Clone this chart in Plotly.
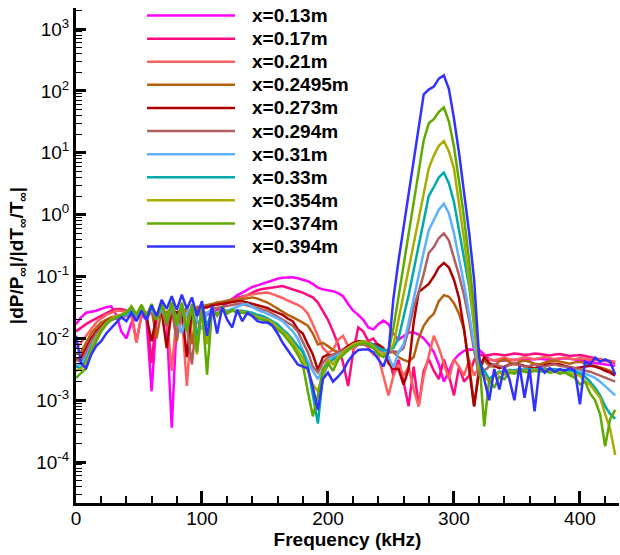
import plotly.graph_objects as go

freq_khz = [0, 4, 8, 12, 16, 20, 24, 28, 32, 36,
            40, 44, 48, 52, 56, 60, 64, 68, 72, 76,
            80, 84, 88, 92, 96, 100, 104, 108, 112, 116,
            120, 124, 128, 132, 136, 140, 144, 148, 152, 156,
            160, 164, 168, 172, 176, 180, 184, 188, 192, 196,
            200, 204, 208, 212, 216, 220, 224, 228, 232, 236,
            240, 244, 248, 252, 256, 260, 264, 268, 272, 276,
            280, 284, 288, 292, 296, 300, 304, 308, 312, 316,
            320, 324, 328, 332, 336, 340, 344, 348, 352, 356,
            360, 364, 368, 372, 376, 380, 384, 388, 392, 396,
            400, 404, 408, 412, 416, 420, 424, 428]

series_labels = ["x=0.13m", "x=0.17m", "x=0.21m", "x=0.2495m", "x=0.273m", "x=0.294m",
                 "x=0.31m", "x=0.33m", "x=0.354m", "x=0.374m", "x=0.394m"]

y_tick_vals = [1e-4, 1e-3, 1e-2, 1e-1, 1e0, 1e1, 1e2, 1e3]
y_tick_text = ["10<sup>-4</sup>", "10<sup>-3</sup>", "10<sup>-2</sup>", "10<sup>-1</sup>",
               "10<sup>0</sup>", "10<sup>1</sup>", "10<sup>2</sup>", "10<sup>3</sup>"]

amp_x013 = [1.7e-2, 2.2e-2, 2.6e-2, 2.7e-2, 2.8e-2, 3.0e-2, 3.2e-2, 3.3e-2, 2.4e-2, 1.3e-2,
            1.0e-2, 1.8e-2, 2.2e-2, 2.4e-2, 2.0e-2, 1.4e-3, 2.2e-2, 2.3e-2, 1.8e-2, 3.6e-4,
            2.0e-2, 2.3e-2, 2.4e-2, 2.5e-2, 2.4e-2, 2.5e-2, 2.4e-2, 2.6e-2, 2.9e-2, 3.2e-2,
            3.7e-2, 4.3e-2, 5.0e-2, 5.5e-2, 6.2e-2, 6.8e-2, 7.2e-2, 7.7e-2, 8.2e-2, 8.7e-2,
            9.2e-2, 9.6e-2, 9.7e-2, 9.7e-2, 9.4e-2, 9.0e-2, 8.4e-2, 7.6e-2, 6.6e-2, 6.2e-2,
            6.0e-2, 5.8e-2, 5.4e-2, 4.8e-2, 3.6e-2, 2.8e-2, 2.4e-2, 2.0e-2, 1.5e-2, 1.4e-2,
            1.7e-2, 1.95e-2, 1.7e-2, 1.2e-2, 9.5e-3, 1.1e-2, 1.25e-2, 1.25e-2, 1.15e-2, 1.0e-2,
            8.0e-3, 6.0e-3, 3.8e-3, 2.0e-3, 3.0e-3, 4.5e-3, 5.5e-3, 6.3e-3, 6.6e-3, 6.6e-3,
            6.5e-3, 5.5e-3, 4.6e-3, 4.4e-3, 4.3e-3, 4.4e-3, 4.5e-3, 4.6e-3, 4.6e-3, 4.5e-3,
            4.5e-3, 4.6e-3, 4.7e-3, 4.6e-3, 4.5e-3, 4.6e-3, 4.7e-3, 4.8e-3, 4.7e-3, 4.6e-3,
            4.5e-3, 4.4e-3, 4.2e-3, 4.0e-3, 3.9e-3, 3.8e-3, 3.7e-3, 3.6e-3]

amp_x017 = [1.3e-2, 1.5e-2, 1.7e-2, 1.9e-2, 2.1e-2, 2.3e-2, 2.5e-2, 2.8e-2, 3.0e-2, 3.0e-2,
            2.8e-2, 2.5e-2, 9.0e-3, 2.4e-2, 2.6e-2, 4.0e-3, 2.5e-2, 2.7e-2, 2.2e-2, 2.6e-2,
            2.5e-2, 2.7e-2, 2.6e-2, 2.8e-2, 2.9e-2, 3.0e-2, 3.2e-2, 3.4e-2, 3.6e-2, 3.9e-2,
            4.1e-2, 4.3e-2, 4.5e-2, 4.8e-2, 5.0e-2, 5.5e-2, 6.0e-2, 6.3e-2, 6.5e-2, 6.6e-2,
            6.8e-2, 7.0e-2, 6.6e-2, 6.2e-2, 5.8e-2, 5.5e-2, 5.0e-2, 4.6e-2, 3.8e-2, 2.8e-2,
            2.0e-2, 1.3e-2, 8.0e-3, 4.0e-3, 1.7e-3, 6.0e-3, 1.5e-2, 1.3e-2, 9.0e-3, 1.0e-2,
            7.5e-3, 6.5e-3, 5.0e-3, 2.5e-3, 4.5e-3, 2.0e-3, 8.0e-4, 3.5e-3, 8.0e-4, 3.0e-3,
            4.6e-3, 3.0e-3, 2.2e-3, 4.6e-3, 2.5e-3, 1.2e-3, 3.5e-3, 2.0e-3, 2.5e-3, 4.5e-3,
            5.5e-3, 5.2e-3, 5.4e-3, 5.6e-3, 5.5e-3, 5.3e-3, 5.5e-3, 5.7e-3, 5.6e-3, 5.4e-3,
            5.5e-3, 5.7e-3, 5.6e-3, 5.4e-3, 5.3e-3, 5.5e-3, 5.6e-3, 5.4e-3, 5.2e-3, 5.3e-3,
            5.4e-3, 5.2e-3, 5.0e-3, 4.8e-3, 4.6e-3, 4.4e-3, 4.2e-3, 4.0e-3]

amp_x021 = [7.0e-3, 8.5e-3, 1.1e-2, 1.4e-2, 1.8e-2, 2.1e-2, 2.4e-2, 2.6e-2, 2.8e-2, 2.8e-2,
            2.6e-2, 2.3e-2, 8.5e-3, 2.4e-2, 2.6e-2, 2.7e-2, 2.5e-2, 2.8e-2, 2.3e-2, 3.0e-3,
            2.5e-2, 2.4e-2, 1.7e-3, 2.4e-2, 2.8e-2, 3.0e-2, 3.2e-2, 3.4e-2, 3.6e-2, 3.8e-2,
            4.0e-2, 4.2e-2, 4.4e-2, 4.6e-2, 5.0e-2, 5.2e-2, 5.3e-2, 5.4e-2, 5.5e-2, 5.2e-2,
            4.9e-2, 4.5e-2, 4.1e-2, 3.8e-2, 3.5e-2, 3.1e-2, 2.5e-2, 1.7e-2, 1.1e-2, 7.0e-3,
            5.8e-3, 6.5e-3, 9.5e-3, 1.1e-2, 7.5e-3, 6.6e-3, 8.0e-3, 9.0e-3, 7.0e-3, 5.5e-3,
            5.0e-3, 2.5e-3, 1.2e-3, 2.5e-3, 3.8e-3, 2.5e-3, 3.5e-3, 1.5e-3, 8.0e-4, 2.5e-3,
            5.0e-3, 1.1e-2, 7.0e-3, 4.0e-3, 2.2e-3, 4.6e-3, 3.5e-3, 2.5e-3, 4.5e-3, 2.5e-3,
            3.5e-3, 4.5e-3, 4.6e-3, 4.4e-3, 4.7e-3, 4.9e-3, 4.6e-3, 4.4e-3, 4.7e-3, 5.0e-3,
            4.8e-3, 4.6e-3, 4.8e-3, 5.0e-3, 4.8e-3, 4.6e-3, 4.8e-3, 4.9e-3, 4.7e-3, 4.6e-3,
            4.8e-3, 4.7e-3, 4.5e-3, 4.4e-3, 4.6e-3, 4.5e-3, 4.3e-3, 4.2e-3]

amp_x02495 = [5.5e-3, 6.0e-3, 8.5e-3, 1.2e-2, 1.5e-2, 1.8e-2, 2.0e-2, 2.2e-2, 2.3e-2, 2.4e-2,
              2.5e-2, 2.7e-2, 2.4e-2, 2.8e-2, 2.3e-2, 2.9e-2, 1.0e-2, 3.0e-2, 2.6e-2, 3.1e-2,
              9.0e-3, 3.1e-2, 2.8e-2, 8.0e-3, 3.2e-2, 3.3e-2, 3.4e-2, 3.6e-2, 3.8e-2, 3.9e-2,
              4.1e-2, 4.2e-2, 4.3e-2, 4.4e-2, 4.5e-2, 4.6e-2, 4.4e-2, 4.1e-2, 3.8e-2, 3.4e-2,
              3.0e-2, 2.7e-2, 2.4e-2, 2.2e-2, 2.0e-2, 1.8e-2, 1.6e-2, 1.2e-2, 8.0e-3, 8.5e-3,
              7.5e-3, 6.5e-3, 6.0e-3, 6.5e-3, 7.0e-3, 7.5e-3, 8.0e-3, 8.0e-3, 7.5e-3, 7.0e-3,
              7.0e-3, 6.5e-3, 6.0e-3, 6.0e-3, 5.0e-3, 4.5e-3, 4.2e-3, 5.0e-3, 1.0e-2, 1.6e-2,
              2.1e-2, 2.5e-2, 4.0e-2, 5.0e-2, 4.7e-2, 3.7e-2, 2.5e-2, 1.4e-2, 4.0e-3, 8.0e-4,
              3.0e-3, 4.5e-3, 3.6e-3, 3.5e-3, 4.3e-3, 4.6e-3, 4.2e-3, 3.8e-3, 4.2e-3, 4.4e-3,
              4.2e-3, 3.9e-3, 3.8e-3, 4.1e-3, 4.3e-3, 4.4e-3, 4.2e-3, 4.0e-3, 3.9e-3, 4.1e-3,
              4.2e-3, 4.0e-3, 3.8e-3, 3.6e-3, 3.4e-3, 3.2e-3, 3.0e-3, 2.7e-3]

amp_x0273 = [4.5e-3, 5.0e-3, 7.0e-3, 1.0e-2, 1.3e-2, 1.6e-2, 1.9e-2, 2.1e-2, 2.2e-2, 2.3e-2,
             2.4e-2, 2.6e-2, 2.3e-2, 2.7e-2, 2.2e-2, 9.0e-3, 2.4e-2, 2.8e-2, 7.0e-3, 2.9e-2,
             2.6e-2, 3.0e-2, 5.0e-3, 2.9e-2, 2.6e-2, 3.1e-2, 3.2e-2, 3.4e-2, 3.5e-2, 3.6e-2,
             3.8e-2, 3.9e-2, 4.0e-2, 4.0e-2, 3.8e-2, 3.6e-2, 3.4e-2, 3.2e-2, 3.1e-2, 2.8e-2,
             2.6e-2, 2.4e-2, 2.1e-2, 1.9e-2, 1.4e-2, 1.2e-2, 8.0e-3, 5.5e-3, 3.1e-3, 5.0e-3,
             5.5e-3, 5.2e-3, 5.8e-3, 6.5e-3, 7.5e-3, 8.5e-3, 9.0e-3, 9.0e-3, 8.5e-3, 8.0e-3,
             8.0e-3, 7.0e-3, 4.0e-3, 3.2e-3, 3.2e-3, 1.8e-3, 3.2e-3, 1.8e-2, 5.6e-2, 6.6e-2,
             7.6e-2, 0.10, 0.14, 0.166, 0.14, 8.9e-2, 4.5e-2, 1.4e-2, 3.2e-3, 8.0e-4,
             3.2e-3, 5.0e-3, 4.0e-3, 3.6e-3, 3.3e-3, 3.5e-3, 3.8e-3, 3.9e-3, 3.8e-3, 3.6e-3,
             3.4e-3, 3.3e-3, 3.5e-3, 3.7e-3, 3.9e-3, 3.9e-3, 3.8e-3, 3.6e-3, 3.4e-3, 3.3e-3,
             3.4e-3, 3.5e-3, 3.6e-3, 3.5e-3, 3.3e-3, 3.0e-3, 2.8e-3, 2.5e-3]

amp_x0294 = [4.5e-3, 4.2e-3, 6.0e-3, 9.0e-3, 1.2e-2, 1.5e-2, 1.8e-2, 2.0e-2, 2.1e-2, 2.2e-2,
             2.3e-2, 2.6e-2, 2.2e-2, 2.7e-2, 2.1e-2, 2.8e-2, 2.0e-2, 2.9e-2, 1.6e-2, 3.0e-2,
             1.0e-2, 2.9e-2, 1.6e-2, 3.8e-3, 2.4e-2, 2.8e-2, 2.5e-2, 3.0e-2, 3.1e-2, 3.2e-2,
             3.3e-2, 3.5e-2, 3.6e-2, 3.6e-2, 3.4e-2, 3.2e-2, 3.0e-2, 2.9e-2, 2.8e-2, 2.5e-2,
             2.2e-2, 2.0e-2, 1.8e-2, 1.6e-2, 1.3e-2, 9.0e-3, 6.0e-3, 3.5e-3, 2.8e-3, 4.0e-3,
             5.0e-3, 5.5e-3, 6.0e-3, 6.5e-3, 7.0e-3, 7.5e-3, 8.0e-3, 8.0e-3, 7.5e-3, 7.0e-3,
             6.5e-3, 6.2e-3, 6.0e-3, 6.2e-3, 6.0e-3, 7.0e-3, 1.4e-2, 3.2e-2, 5.6e-2, 0.11,
             0.24, 0.30, 0.42, 0.50, 0.38, 0.20, 0.105, 5.0e-2, 2.0e-2, 6.3e-3,
             2.5e-3, 3.0e-3, 3.5e-3, 3.8e-3, 3.6e-3, 3.4e-3, 3.7e-3, 3.9e-3, 3.7e-3, 3.5e-3,
             3.6e-3, 3.8e-3, 3.6e-3, 3.5e-3, 3.7e-3, 3.8e-3, 3.6e-3, 3.5e-3, 3.4e-3, 3.3e-3,
             3.2e-3, 3.0e-3, 2.9e-3, 2.7e-3, 2.5e-3, 2.3e-3, 2.1e-3, 2.0e-3]

amp_x031 = [3.6e-3, 3.8e-3, 5.0e-3, 7.5e-3, 1.05e-2, 1.35e-2, 1.7e-2, 2.0e-2, 2.2e-2, 2.3e-2,
            2.4e-2, 2.8e-2, 2.3e-2, 2.9e-2, 2.2e-2, 3.0e-2, 2.1e-2, 3.1e-2, 2.0e-2, 3.2e-2,
            1.9e-2, 1.2e-2, 2.6e-2, 3.2e-2, 2.0e-2, 1.4e-2, 2.6e-2, 2.8e-2, 2.5e-2, 2.9e-2,
            2.8e-2, 3.0e-2, 3.3e-2, 3.5e-2, 3.6e-2, 3.2e-2, 2.9e-2, 2.7e-2, 2.5e-2, 2.3e-2,
            2.1e-2, 1.9e-2, 1.6e-2, 1.3e-2, 1.0e-2, 6.5e-3, 4.2e-3, 3.0e-3, 2.2e-3, 3.2e-3,
            4.5e-3, 5.0e-3, 5.5e-3, 6.0e-3, 7.0e-3, 8.0e-3, 8.5e-3, 8.5e-3, 8.0e-3, 7.5e-3,
            7.0e-3, 6.5e-3, 5.0e-3, 3.4e-3, 6.0e-3, 8.0e-3, 1.8e-2, 4.5e-2, 0.107, 0.25,
            0.56, 0.83, 1.2, 1.5, 1.05, 0.50, 0.20, 7.6e-2, 2.5e-2, 8.0e-3,
            3.2e-3, 2.5e-3, 2.2e-3, 2.5e-3, 2.8e-3, 3.0e-3, 2.9e-3, 3.1e-3, 3.0e-3, 3.2e-3,
            3.1e-3, 3.2e-3, 3.1e-3, 3.2e-3, 3.1e-3, 3.2e-3, 3.1e-3, 3.0e-3, 3.1e-3, 3.0e-3,
            2.9e-3, 2.7e-3, 2.5e-3, 2.3e-3, 2.0e-3, 1.7e-3, 1.4e-3, 1.2e-3]

amp_x033 = [3.5e-3, 3.3e-3, 4.5e-3, 7.0e-3, 1.0e-2, 1.3e-2, 1.7e-2, 2.0e-2, 2.2e-2, 2.3e-2,
            2.5e-2, 2.9e-2, 2.4e-2, 3.1e-2, 2.3e-2, 3.2e-2, 2.2e-2, 3.3e-2, 2.1e-2, 3.4e-2,
            2.0e-2, 3.4e-2, 1.3e-2, 3.3e-2, 1.0e-2, 3.1e-2, 1.6e-2, 2.9e-2, 2.4e-2, 3.0e-2,
            2.7e-2, 2.8e-2, 2.8e-2, 2.8e-2, 2.7e-2, 2.6e-2, 2.4e-2, 2.3e-2, 2.1e-2, 1.9e-2,
            1.7e-2, 1.4e-2, 1.2e-2, 9.5e-3, 7.5e-3, 6.0e-3, 3.5e-3, 1.3e-3, 4.2e-4, 2.5e-3,
            3.8e-3, 4.6e-3, 5.0e-3, 5.5e-3, 6.5e-3, 7.5e-3, 8.5e-3, 9.0e-3, 8.5e-3, 8.0e-3,
            7.0e-3, 6.5e-3, 6.5e-3, 7.0e-3, 1.0e-2, 2.2e-2, 5.0e-2, 0.126, 0.32, 0.80,
            2.0, 2.8, 4.0, 4.8, 3.2, 1.6, 0.56, 0.20, 7.0e-2, 1.6e-2,
            4.0e-3, 3.0e-3, 2.2e-3, 2.6e-3, 2.9e-3, 2.8e-3, 3.1e-3, 3.0e-3, 3.2e-3, 3.1e-3,
            3.2e-3, 3.1e-3, 3.2e-3, 3.2e-3, 3.1e-3, 3.2e-3, 3.0e-3, 3.1e-3, 3.0e-3, 2.9e-3,
            2.7e-3, 2.4e-3, 2.0e-3, 1.6e-3, 1.2e-3, 8.0e-4, 6.0e-4, 5.0e-4]

amp_x0354 = [3.0e-3, 3.2e-3, 4.0e-3, 6.5e-3, 1.0e-2, 1.4e-2, 1.8e-2, 2.1e-2, 2.3e-2, 2.4e-2,
             2.7e-2, 3.1e-2, 2.5e-2, 3.3e-2, 2.4e-2, 3.4e-2, 2.2e-2, 3.6e-2, 2.0e-2, 3.7e-2,
             1.8e-2, 3.6e-2, 1.5e-2, 3.4e-2, 5.5e-3, 3.2e-2, 8.0e-3, 2.9e-2, 2.3e-2, 3.1e-2,
             2.6e-2, 2.8e-2, 2.7e-2, 2.7e-2, 2.6e-2, 2.4e-2, 2.2e-2, 2.1e-2, 2.0e-2, 1.8e-2,
             1.5e-2, 1.3e-2, 1.1e-2, 8.5e-3, 6.5e-3, 4.8e-3, 3.0e-3, 1.8e-3, 1.4e-3, 2.5e-3,
             4.5e-3, 3.8e-3, 5.0e-3, 6.0e-3, 7.0e-3, 8.0e-3, 8.5e-3, 9.0e-3, 8.5e-3, 7.5e-3,
             6.0e-3, 5.5e-3, 6.0e-3, 8.0e-3, 2.0e-2, 5.0e-2, 0.126, 0.32, 0.80, 2.0,
             5.6, 9.0, 13.0, 15.5, 10.5, 5.6, 1.6, 0.40, 9.0e-2, 1.6e-2,
             3.2e-3, 2.5e-3, 2.0e-3, 2.5e-3, 2.8e-3, 2.6e-3, 3.0e-3, 2.9e-3, 3.1e-3, 3.0e-3,
             3.0e-3, 3.1e-3, 3.0e-3, 3.1e-3, 2.9e-3, 3.0e-3, 2.8e-3, 2.9e-3, 2.7e-3, 2.6e-3,
             2.5e-3, 2.0e-3, 1.8e-3, 1.4e-3, 1.1e-3, 6.0e-4, 3.4e-4, 1.3e-4]

amp_x0374 = [2.3e-3, 2.8e-3, 3.3e-3, 5.5e-3, 9.0e-3, 1.3e-2, 1.7e-2, 2.0e-2, 2.2e-2, 2.4e-2,
             2.6e-2, 3.3e-2, 2.4e-2, 3.5e-2, 2.3e-2, 3.6e-2, 2.0e-2, 3.8e-2, 1.8e-2, 3.9e-2,
             1.6e-2, 3.8e-2, 1.3e-2, 3.6e-2, 6.0e-3, 3.4e-2, 2.6e-3, 3.0e-2, 2.4e-2, 3.2e-2,
             2.5e-2, 2.9e-2, 2.6e-2, 2.6e-2, 2.5e-2, 2.3e-2, 2.1e-2, 2.0e-2, 1.9e-2, 1.6e-2,
             1.4e-2, 1.2e-2, 9.5e-3, 7.5e-3, 5.5e-3, 3.8e-3, 1.4e-3, 5.5e-4, 1.2e-3, 3.2e-3,
             4.0e-3, 3.0e-3, 4.5e-3, 5.5e-3, 6.5e-3, 7.5e-3, 8.0e-3, 8.5e-3, 8.0e-3, 7.0e-3,
             5.5e-3, 5.0e-3, 6.0e-3, 1.5e-2, 4.7e-2, 0.15, 0.48, 1.55, 5.0, 16.0,
             30.0, 35.0, 46.0, 54.0, 32.0, 12.6, 3.5, 0.90, 0.18, 3.2e-2,
             5.0e-3, 3.8e-4, 2.2e-3, 1.6e-3, 2.4e-3, 2.2e-3, 2.8e-3, 2.7e-3, 3.0e-3, 2.9e-3,
             2.8e-3, 3.0e-3, 2.9e-3, 3.0e-3, 2.8e-3, 2.9e-3, 2.7e-3, 2.8e-3, 2.5e-3, 2.3e-3,
             1.8e-3, 2.0e-3, 1.3e-3, 1.0e-3, 6.0e-4, 1.8e-4, 5.0e-4, 7.0e-4]

amp_x0394 = [1.1e-2, 4.0e-3, 3.3e-3, 5.5e-3, 7.5e-3, 9.0e-3, 1.2e-2, 1.5e-2, 1.8e-2, 2.2e-2,
             1.9e-2, 2.6e-2, 1.9e-2, 2.8e-2, 2.0e-2, 3.4e-2, 2.3e-2, 4.2e-2, 3.0e-2, 4.8e-2,
             2.9e-2, 5.1e-2, 3.0e-2, 4.6e-2, 2.3e-2, 4.0e-2, 1.1e-2, 3.3e-2, 1.2e-2, 3.2e-2,
             2.0e-2, 1.5e-2, 2.9e-2, 1.9e-2, 2.6e-2, 2.3e-2, 1.9e-2, 1.8e-2, 1.8e-2, 1.6e-2,
             1.2e-2, 8.5e-3, 6.5e-3, 5.0e-3, 3.8e-3, 3.5e-3, 3.3e-3, 1.6e-3, 7.0e-4, 2.2e-3,
             2.8e-3, 2.0e-3, 2.4e-3, 3.0e-3, 4.3e-3, 5.5e-3, 6.5e-3, 6.6e-3, 6.6e-3, 6.0e-3,
             4.5e-3, 3.5e-3, 6.0e-3, 4.5e-2, 0.18, 0.63, 2.2, 7.5, 26.0, 88.0,
             105.0, 117.0, 158.0, 178.0, 107.0, 36.0, 10.0, 2.5, 0.52, 8.9e-2,
             5.0e-3, 2.2e-3, 1.0e-3, 3.2e-3, 1.5e-3, 3.5e-3, 2.2e-3, 1.0e-3, 3.6e-3, 1.1e-3,
             3.2e-3, 6.6e-4, 3.5e-3, 2.8e-3, 3.3e-3, 2.9e-3, 3.2e-3, 3.0e-3, 3.3e-3, 3.0e-3,
             8.6e-4, 4.2e-3, 3.8e-3, 4.9e-3, 4.2e-3, 4.6e-3, 4.2e-3, 2.6e-3]

series_values = [amp_x013, amp_x017, amp_x021, amp_x02495, amp_x0273, amp_x0294,
                 amp_x031, amp_x033, amp_x0354, amp_x0374, amp_x0394]
series_colors = ["#FF00FF", "#FF0A80", "#FF6060", "#B5610E", "#AE0000", "#B05F5F",
                 "#5CB0FF", "#00A9A9", "#ABAB00", "#5EAA00", "#3232FF"]

FONT = "Liberation Sans, Arial, Helvetica, sans-serif"

# minor tick positions (2..9 within each decade) for the log axis
y_minor_vals = [m * 10.0 ** e for e in range(-5, 4) for m in range(2, 10)]

fig = go.Figure()
for label, color, vals in zip(series_labels, series_colors, series_values):
    fig.add_trace(go.Scatter(x=freq_khz, y=vals, mode="lines", name=label,
                             line=dict(color=color, width=2.5), showlegend=False))

# Tecplot-style legend drawn inside the plot area (long line samples)
shapes = []
annotations = []
for i, (label, color) in enumerate(zip(series_labels, series_colors)):
    yp = 0.9848 - 0.04667 * i
    shapes.append(dict(type="line", xref="paper", yref="paper", x0=0.1308, x1=0.2928,
                       y0=yp, y1=yp, line=dict(color=color, width=2.5)))
    annotations.append(dict(xref="paper", yref="paper", x=0.3204, y=yp, xanchor="left",
                            yanchor="middle", showarrow=False, text="<b>" + label + "</b>",
                            font=dict(family=FONT, size=19, color="black")))

fig.update_layout(
    width=620, height=555,
    margin=dict(l=76, r=1, t=8, b=52),
    paper_bgcolor="white", plot_bgcolor="white",
    font=dict(family=FONT, size=19, color="black"),
    shapes=shapes, annotations=annotations,
    showlegend=False,
)
fig.update_xaxes(
    range=[0, 431], showgrid=False, zeroline=False,
    showline=True, linecolor="black", linewidth=3,
    ticks="inside", ticklen=12, tickwidth=2.5, tickcolor="black",
    dtick=100, tick0=0, ticklabelstandoff=-4,
    minor=dict(ticks="inside", ticklen=7, tickwidth=1.5, tickcolor="black", dtick=20, showgrid=False),
    tickfont=dict(family=FONT, size=19, color="black"),
    title=dict(text="<b>Frequency (kHz)</b>", font=dict(family=FONT, size=19, color="black"), standoff=1),
    automargin=False,
)
fig.update_yaxes(
    type="log", range=[-4.66, 3.34], showgrid=False, zeroline=False,
    showline=True, linecolor="black", linewidth=3,
    ticks="inside", ticklen=10, tickwidth=2.5, tickcolor="black",
    tickmode="array", tickvals=y_tick_vals, ticktext=y_tick_text,
    minor=dict(tickmode="array", tickvals=y_minor_vals, ticks="inside", ticklen=6,
               tickwidth=1.2, tickcolor="black", showgrid=False),
    tickfont=dict(family=FONT, size=19, color="black"),
    title=dict(text="<b>|dP/P<sub>∞</sub>|/|dT<sub>∞</sub>/T<sub>∞</sub>|</b>",
               font=dict(family=FONT, size=19, color="black"), standoff=8),
    automargin=False,
)

fig.write_html("out.html")
